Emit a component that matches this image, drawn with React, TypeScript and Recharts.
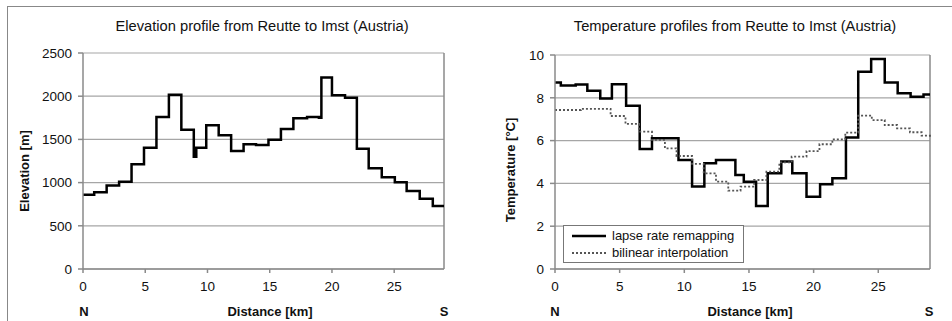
import { LineChart, Line, XAxis, YAxis, CartesianGrid, ReferenceLine, Legend } from "recharts";

const font = "'Liberation Sans', Arial, sans-serif";

const distTicks = [0, 5, 10, 15, 20, 25];
const elevTicks = [0, 500, 1000, 1500, 2000, 2500];
const tempTicks = [0, 2, 4, 6, 8, 10];

// elevation profile: start of each step (km) and height (m)
const elevKm = [0, 0.9, 1.9, 2.9, 3.9, 4.9, 5.9, 6.9, 7.9, 8.9, 9.1, 9.9, 10.9, 11.9, 12.9, 13.9, 14.9, 15.9, 16.9, 18.0, 18.95, 19.15, 20.0, 21.05, 22.0, 22.95, 24.0, 25.05, 26.0, 27.05, 28.1, 29];
const elevM = [860, 887, 965, 1011, 1211, 1404, 1759, 2018, 1613, 1300, 1404, 1663, 1547, 1366, 1445, 1435, 1497, 1620, 1744, 1759, 1750, 2215, 2010, 1983, 1393, 1165, 1061, 1003, 903, 814, 729, 729];

// lapse rate remapping
const lapseKm = [0, 0.45, 1.6, 2.5, 3.5, 4.4, 5.5, 6.55, 7.5, 9.55, 10.6, 11.55, 12.45, 13.95, 14.6, 15.55, 16.45, 17.5, 18.35, 19.45, 20.5, 21.45, 22.5, 23.45, 24.45, 25.5, 26.5, 27.5, 28.5, 29];
const lapseTemp = [8.71, 8.58, 8.62, 8.33, 7.97, 8.63, 7.63, 5.61, 6.11, 5.09, 3.85, 4.94, 5.09, 4.39, 4.08, 2.94, 4.47, 5.02, 4.47, 3.38, 3.96, 4.24, 6.14, 9.22, 9.81, 8.72, 8.21, 8.05, 8.16, 8.16];

// bilinear interpolation
const bilinKm = [0, 2.0, 4.3, 5.45, 6.5, 7.5, 8.5, 9.4, 10.6, 11.5, 12.45, 13.4, 14.35, 15.4, 16.35, 17.35, 18.3, 19.45, 20.45, 21.45, 22.45, 23.45, 24.5, 25.5, 26.45, 27.45, 28.35, 29];
const bilinTemp = [7.43, 7.48, 7.15, 6.78, 6.42, 6.03, 5.64, 5.28, 4.91, 4.47, 4.08, 3.66, 3.85, 4.16, 4.55, 4.98, 5.25, 5.51, 5.83, 6.06, 6.37, 7.17, 6.96, 6.73, 6.57, 6.39, 6.23, 6.15];

const legendOrder = ["lapse rate remapping", "bilinear interpolation"];

const elevData = elevKm.map((km, i) => ({ km, elev: elevM[i] }));
const lapseData = lapseKm.map((km, i) => ({ km, temp: lapseTemp[i] }));
const bilinData = bilinKm.map((km, i) => ({ km, temp: bilinTemp[i] }));

const axisGray = "#8a8a8a";
const gridGray = "#a6a6a6";
const tickStyle = { fontSize: 13.5, fill: "#111", fontFamily: font };

function Caption({ x, y, text, bold = false, rotate = false, size = 13 }: { x: number; y: number; text: string; bold?: boolean; rotate?: boolean; size?: number }) {
  return (
    <div
      style={{
        position: "absolute", left: x, top: y, whiteSpace: "nowrap", lineHeight: 1,
        transform: `translate(-50%, -50%)${rotate ? " rotate(-90deg)" : ""}`,
        fontSize: size, fontWeight: bold ? 700 : 400, color: "#111",
      }}
    >
      {text}
    </div>
  );
}

function LegendBox({ payload }: any) {
  const items = [...(payload || [])].sort((a: any, b: any) => legendOrder.indexOf(a.value) - legendOrder.indexOf(b.value));
  return (
    <div style={{ border: "1px solid #777", background: "#fff", padding: "1px 8px", width: 163, fontFamily: font }}>
      {items.map((p: any) => (
        <div key={p.value} style={{ display: "flex", alignItems: "center", height: 17, fontSize: 13, color: "#111" }}>
          <svg width={34} height={6} style={{ marginRight: 6 }}>
            <line x1={0} y1={3} x2={34} y2={3} stroke={p.color} strokeWidth={p.payload?.strokeWidth ?? 2} strokeDasharray={p.payload?.strokeDasharray} />
          </svg>
          {p.value}
        </div>
      ))}
    </div>
  );
}

export default function App() {
  return (
    <div style={{ position: "absolute", left: 0, top: 0, width: 952, height: 321, background: "#fff", fontFamily: font, overflow: "hidden" }}>
      <div style={{ position: "absolute", left: 7, top: 6, width: 945, height: 1, background: "#888" }} />
      <div style={{ position: "absolute", left: 7, top: 6, width: 1, height: 315, background: "#888" }} />

      <div style={{ position: "absolute", left: 0, top: 0 }}>
        <LineChart width={476} height={321} data={elevData} margin={{ top: 53, right: 32, bottom: 22, left: 33 }}>
          <CartesianGrid vertical={false} stroke={gridGray} strokeWidth={1.2} />
          <XAxis dataKey="km" type="number" domain={[0, 29]} ticks={distTicks} height={30} tick={tickStyle}
            stroke={axisGray} strokeWidth={1.5} tickSize={4} tickMargin={8} />
          <YAxis type="number" domain={[0, 2500]} ticks={elevTicks} width={50} tick={tickStyle}
            stroke={axisGray} strokeWidth={1.5} tickSize={5} tickMargin={6} />
          <ReferenceLine x={29} stroke={axisGray} strokeWidth={1.5} />
          <Line type="stepAfter" dataKey="elev" stroke="#000" strokeWidth={2.5} dot={false} activeDot={false} isAnimationActive={false} />
        </LineChart>
      </div>

      <div style={{ position: "absolute", left: 476, top: 0 }}>
        <LineChart width={476} height={321} margin={{ top: 55, right: 22, bottom: 22, left: 29 }}>
          <CartesianGrid vertical={false} stroke={gridGray} strokeWidth={1.2} />
          <XAxis dataKey="km" type="number" domain={[0, 29]} ticks={distTicks} height={30} tick={tickStyle}
            stroke={axisGray} strokeWidth={1.5} tickSize={4} tickMargin={8} allowDuplicatedCategory={false} />
          <YAxis type="number" domain={[0, 10]} ticks={tempTicks} width={50} tick={tickStyle}
            stroke={axisGray} strokeWidth={1.5} tickSize={5} tickMargin={6} />
          <ReferenceLine x={29} stroke={axisGray} strokeWidth={1.5} />
          <Line data={lapseData} type="stepAfter" dataKey="temp" name="lapse rate remapping" stroke="#000" strokeWidth={2.5}
            dot={false} activeDot={false} isAnimationActive={false} />
          <Line data={bilinData} type="stepAfter" dataKey="temp" name="bilinear interpolation" stroke="#555" strokeWidth={1.8}
            strokeDasharray="2 2" dot={false} activeDot={false} isAnimationActive={false} />
          <Legend layout="vertical" align="center" verticalAlign="middle" content={LegendBox}
            wrapperStyle={{ left: 87, top: 225, width: 181 }} />
        </LineChart>
      </div>

      <Caption x={262} y={26} text="Elevation profile from Reutte to Imst (Austria)" size={14.7} />
      <Caption x={735} y={26} text="Temperature profiles from Reutte to Imst (Austria)" size={14.7} />
      <Caption x={24} y={171} text="Elevation [m]" bold rotate />
      <Caption x={510} y={170} text="Temperature [°C]" bold rotate />
      <Caption x={84} y={311} text="N" bold />
      <Caption x={270} y={311} text="Distance [km]" bold />
      <Caption x={444} y={311} text="S" bold />
      <Caption x={555} y={311} text="N" bold />
      <Caption x={750} y={311} text="Distance [km]" bold />
      <Caption x={929} y={311} text="S" bold />
    </div>
  );
}
